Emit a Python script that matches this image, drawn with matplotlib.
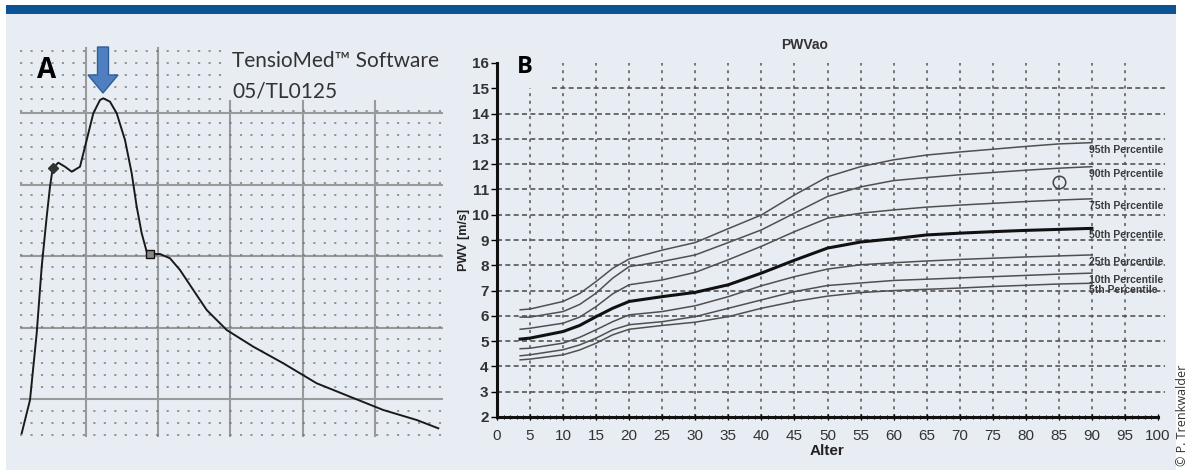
import numpy as np
import matplotlib
matplotlib.use('Agg')
from matplotlib import pyplot as plt
from matplotlib import font_manager
from matplotlib.patches import Rectangle, FancyArrow

# ---- panel B data: PWV percentiles by age ----
ages = [3.5, 5, 10, 12.5, 15, 17.5, 20, 25, 30, 35, 40, 45, 50, 55, 60, 65, 70, 75, 80, 85, 90]
p95 = [6.24, 6.27, 6.57, 6.88, 7.36, 7.88, 8.25, 8.6, 8.9, 9.45, 9.99, 10.78, 11.5, 11.9, 12.17, 12.36, 12.48, 12.59, 12.7, 12.8, 12.85]
p90 = [5.95, 5.95, 6.17, 6.45, 6.9, 7.49, 7.95, 8.15, 8.41, 8.9, 9.4, 10.06, 10.72, 11.1, 11.35, 11.47, 11.58, 11.67, 11.76, 11.84, 11.9]
p75 = [5.47, 5.51, 5.71, 5.95, 6.37, 6.87, 7.23, 7.42, 7.72, 8.22, 8.75, 9.33, 9.86, 10.06, 10.19, 10.3, 10.38, 10.45, 10.52, 10.58, 10.63]
p50 = [5.08, 5.12, 5.38, 5.62, 5.97, 6.3, 6.57, 6.76, 6.93, 7.23, 7.69, 8.2, 8.68, 8.92, 9.05, 9.2, 9.27, 9.33, 9.38, 9.42, 9.46]
p25 = [4.7, 4.72, 4.92, 5.15, 5.45, 5.77, 6.04, 6.17, 6.4, 6.76, 7.19, 7.55, 7.85, 8.02, 8.1, 8.17, 8.23, 8.28, 8.33, 8.37, 8.41]
p10 = [4.42, 4.46, 4.66, 4.85, 5.12, 5.45, 5.65, 5.77, 5.97, 6.3, 6.63, 6.96, 7.2, 7.3, 7.4, 7.45, 7.5, 7.55, 7.6, 7.65, 7.69]
p05 = [4.26, 4.29, 4.46, 4.65, 4.92, 5.25, 5.47, 5.62, 5.75, 5.97, 6.3, 6.57, 6.78, 6.92, 7.0, 7.05, 7.1, 7.16, 7.21, 7.26, 7.29]
labels = ['95th Percentile', '90th Percentile', '75th Percentile', '50th Percentile',
          '25th Percentile', '10th Percentile', '5th Percentile']
patient_age = [85]
patient_pwv = [11.3]
xticks = list(range(0, 101, 5))
yticks = list(range(2, 17))

# ---- panel A data: pulse wave trace (time, pressure in grid units) ----
wave_t = [1.7, 10, 16.7, 21.7, 26.7, 30, 32.7, 38.3, 45, 51.7, 60, 66.7, 73.3, 80, 83.3, 90,
          96.7, 105, 111.7, 116.7, 121.7, 126.7, 130, 140, 150, 160, 173.3, 186.7, 206.7,
          233.3, 263.3, 296.7, 330, 363.3, 396.7, 418.3]
wave_p = [3.7, 37, 103.7, 170.3, 220.3, 250.3, 268.7, 274.3, 270.3, 265.3, 270.3, 297, 323.7,
          337, 338.7, 335.3, 323.7, 297, 263.7, 230.3, 203.7, 185.3, 183, 183, 178.7, 167,
          147, 127, 107, 90.3, 73.7, 53.7, 40.3, 27, 17, 8.7]
marker_t = [32.7, 130]
marker_p = [268.7, 183]

names = {f.name for f in font_manager.fontManager.ttflist}
narrow = 'Liberation Sans Narrow' if 'Liberation Sans Narrow' in names else 'Liberation Sans'
plt.rcParams['font.family'] = [narrow, 'DejaVu Sans']

W, H = 1190, 470
fig = plt.figure(figsize=(W / 100, H / 100), dpi=100, facecolor='white')
bg = '#e8edf3'
fig.patches.append(Rectangle((6 / W, 0), 1170 / W, 1 - 5 / H, transform=fig.transFigure,
                             facecolor=bg, edgecolor='none', zorder=-10))
fig.patches.append(Rectangle((6 / W, 1 - 14 / H), 1170 / W, 9 / H, transform=fig.transFigure,
                             facecolor='#0b5394', edgecolor='none', zorder=-9))

# ---------------- panel A ----------------
axA = fig.add_axes([20 / W, 1 - 437 / H, 423 / W, 390 / H])
axA.set_facecolor('none')
axA.set_xlim(0, 423)
axA.set_ylim(0, 390)
axA.set_xticks([66, 138, 210, 283, 355])
axA.set_yticks([38, 109.5, 181, 252.5, 324])
axA.set_yticks(np.arange(2, 390, 12), minor=True)
axA.grid(which='major', color='#9a9a9a', lw=1.5)
axA.grid(which='minor', axis='y', color='#6f6f6f', lw=1.3, ls=(0, (1.2, 4.6)), alpha=0.75)
axA.tick_params(which='both', length=0, labelbottom=False, labelleft=False)
for s in axA.spines.values():
    s.set_visible(False)
axA.add_patch(Rectangle((208, 337), 215, 53, facecolor=bg, edgecolor='none', zorder=2))
axA.plot(wave_t, wave_p, color='#1a1a1a', lw=1.4, zorder=3)
axA.plot(marker_t[:1], marker_p[:1], marker='D', ms=5, color='#333333', zorder=4)
axA.plot(marker_t[1:], marker_p[1:], marker='s', ms=6, mfc='#888888', mec='#111111', zorder=4)
axA.add_patch(FancyArrow(83, 390, 0, -46, width=11, head_width=30, head_length=18,
                         length_includes_head=True, facecolor='#4f7fc0', edgecolor='#2f5f9a',
                         lw=1, zorder=5, clip_on=False))
axA.text(26.7, 367, 'A', fontsize=20, fontweight='bold', ha='center', va='center',
         family=['Open Sans', 'DejaVu Sans'], zorder=5)
axA.text(212, 376, 'TensioMed\u2122 Software', fontsize=15, ha='left', va='center',
         color='#333333', family=['Lato', 'DejaVu Sans'], zorder=5)
axA.text(212, 346, '05/TL0125', fontsize=15, ha='left', va='center',
         color='#333333', family=['Lato', 'DejaVu Sans'], zorder=5)

# ---------------- panel B ----------------
ax = fig.add_axes([497 / W, 1 - 417 / H, 661 / W, 354 / H])
ax.set_facecolor('none')
ax.set_xlim(0, 100)
ax.set_ylim(2, 16)

gcol = '#555555'
for y in yticks[1:-1]:
    x0 = 8.3 if y == 15 else 0
    ax.hlines(y, x0, 101, color=gcol, lw=1.2, ls=(0, (3, 2)), zorder=1, clip_on=False)
for x in xticks[1:-1]:
    y1 = 15 if x == 5 else 16
    ax.vlines(x, 2, y1, color=gcol, lw=1.1, ls=(0, (2, 3)), zorder=1)

series = [p95, p90, p75, p50, p25, p10, p05]
for vals, lab in zip(series, labels):
    bold = lab.startswith('50')
    ax.plot(ages, vals, color='#111111' if bold else '#505050', lw=2.2 if bold else 1.1,
            zorder=3)
    ax.text(ages[-1] - 0.4, vals[-1] - 0.28, lab, fontsize=7.5, fontweight='bold',
            color='#3a3a3a', ha='left', va='center', zorder=4)
ax.plot(patient_age, patient_pwv, 'o', ms=9, mfc='none', mec='#444444', mew=1.1, zorder=4)

ax.set_xticks(xticks)
ax.set_yticks(yticks)
ax.set_xticks(range(0, 101), minor=True)
ax.tick_params(axis='x', which='major', length=5, width=1, direction='inout',
               labelsize=11, labelcolor='#333333', pad=6)
ax.tick_params(axis='x', which='minor', length=3, width=0.8, direction='inout')
ax.tick_params(axis='y', length=4, width=1, direction='out', labelsize=11,
               labelcolor='#333333', pad=2)
for t in ax.get_yticklabels():
    t.set_fontweight('bold')
for side in ['top', 'right']:
    ax.spines[side].set_visible(False)
for side in ['left', 'bottom']:
    ax.spines[side].set_linewidth(2.2)
    ax.spines[side].set_color('#111111')

ax.set_xlabel('Alter', fontsize=11, fontweight='bold', color='#222222', labelpad=1,
              family=['Liberation Sans', 'DejaVu Sans'])
ax.set_ylabel('PWV [m/s]', fontsize=9, fontweight='bold', color='#222222', labelpad=1,
              family=['Liberation Sans', 'DejaVu Sans'])
fig.text(805 / W, 1 - 45 / H, 'PWVao', fontsize=10, fontweight='bold', color='#333333',
         ha='center', va='center', family=['Liberation Sans', 'DejaVu Sans'])
fig.text(525 / W, 1 - 67 / H, 'B', fontsize=17, fontweight='bold', ha='center', va='center',
         family=['Open Sans', 'DejaVu Sans'])
fig.text(1183 / W, 1 - 415 / H, '\u00a9 P. Trenkwalder', fontsize=9, rotation=90,
         ha='center', va='center', color='#333333', family=['Open Sans', 'DejaVu Sans'])

fig.savefig('out.png', dpi=100, facecolor='white')
